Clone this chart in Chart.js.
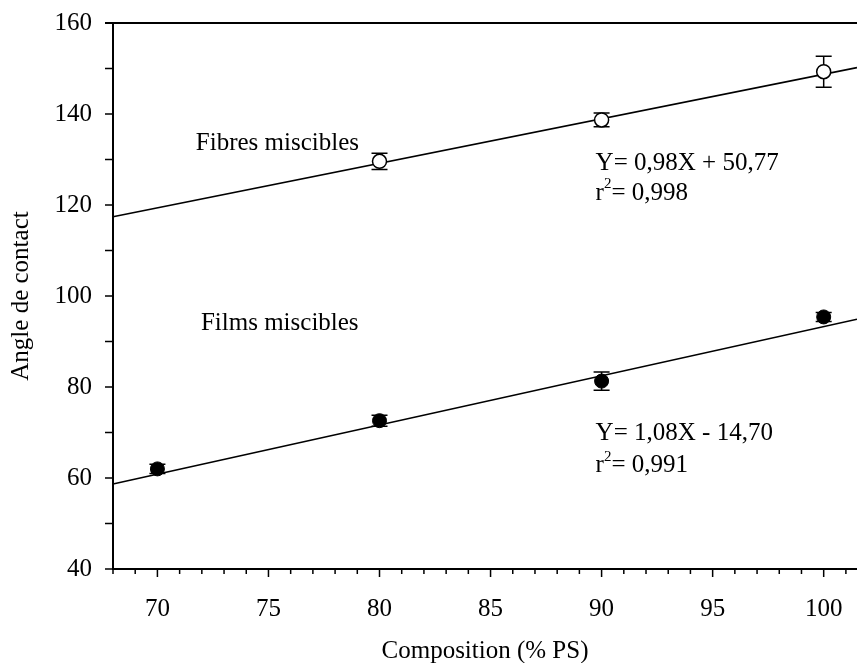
<!DOCTYPE html>
<html>
<head>
<meta charset="utf-8">
<script src="https://cdn.jsdelivr.net/npm/chart.js@4.4.1/dist/chart.umd.min.js"></script>
<style>
  html, body { margin: 0; padding: 0; background: #fff; }
  #wrap { width: 857px; height: 663px; }
</style>
</head>
<body>
<div id="wrap"><canvas id="chart" width="857" height="663"></canvas></div>
<script>
// Contact angle vs. composition (% PS), fibres and films

const compositionFibres = [80, 90, 100];
const angleFibres = [129.6, 138.7, 149.3];
const errFibres = [1.8, 1.5, 3.4];

const compositionFilms = [70, 80, 90, 100];
const angleFilms = [62.0, 72.6, 81.3, 95.4];
const errFilms = [1.0, 1.2, 2.0, 1.0];

// regression lines, read at the ends of the x range
const fitX = [68, 101.5];
const fitFibres = [117.4, 150.2];
const fitFilms = [58.7, 94.9];

const xTicks = [70, 75, 80, 85, 90, 95, 100];
const yTicks = [40, 60, 80, 100, 120, 140, 160];

const FONT = 'Liberation Serif, Times New Roman, serif';

function pts(xs, ys) {
  return xs.map((x, i) => ({ x: x, y: ys[i] }));
}

// error bars, minor ticks, top border and text notes
const extras = {
  id: 'extras',
  beforeDatasetsDraw(chart) {
    const { ctx, scales: { x, y } } = chart;
    ctx.save();
    ctx.strokeStyle = '#000';
    ctx.lineWidth = 1.5;
    const bars = [
      [compositionFibres, angleFibres, errFibres],
      [compositionFilms, angleFilms, errFilms]
    ];
    bars.forEach(([xs, ys, es]) => {
      xs.forEach((v, i) => {
        const px = x.getPixelForValue(v);
        const top = y.getPixelForValue(ys[i] + es[i]);
        const bot = y.getPixelForValue(ys[i] - es[i]);
        ctx.beginPath();
        ctx.moveTo(px, top); ctx.lineTo(px, bot);
        ctx.moveTo(px - 8, top); ctx.lineTo(px + 8, top);
        ctx.moveTo(px - 8, bot); ctx.lineTo(px + 8, bot);
        ctx.stroke();
      });
    });
    ctx.restore();
  },
  afterDraw(chart) {
    const { ctx, chartArea: a, scales: { x, y } } = chart;
    ctx.save();
    ctx.strokeStyle = '#000';
    ctx.lineWidth = 2;
    // top frame line
    ctx.beginPath();
    ctx.moveTo(a.left - 8, a.top);
    ctx.lineTo(a.right, a.top);
    ctx.stroke();
    ctx.lineWidth = 1.5;
    // x ticks: long at every 5, short at every 1
    ctx.beginPath();
    for (let v = Math.ceil(x.min); v <= x.max; v++) {
      const px = x.getPixelForValue(v);
      const len = v % 5 === 0 ? 8 : 5;
      ctx.moveTo(px, a.bottom);
      ctx.lineTo(px, a.bottom + len);
    }
    // y ticks every 10
    for (let v = y.min; v <= y.max; v += 10) {
      const py = y.getPixelForValue(v);
      ctx.moveTo(a.left, py);
      ctx.lineTo(a.left - 8, py);
    }
    ctx.stroke();

    // text notes
    ctx.fillStyle = '#000';
    ctx.textBaseline = 'middle';
    ctx.textAlign = 'left';
    const big = '25px ' + FONT;
    const sup = '15px ' + FONT;
    const notes = [
      { t: 'Fibres miscibles', x: 71.73, y: 133.6 },
      { t: 'Films miscibles', x: 71.96, y: 94.0 },
      { t: 'Y= 0,98X + 50,77', x: 89.73, y: 129.2 },
      { t: 'Y= 1,08X - 14,70', x: 89.73, y: 69.7 }
    ];
    ctx.font = big;
    notes.forEach(n => ctx.fillText(n.t, x.getPixelForValue(n.x), y.getPixelForValue(n.y)));
    const r2 = [
      { v: '= 0,998', x: 89.73, y: 122.6 },
      { v: '= 0,991', x: 89.73, y: 62.7 }
    ];
    r2.forEach(n => {
      let px = x.getPixelForValue(n.x);
      const py = y.getPixelForValue(n.y);
      ctx.font = big;
      ctx.fillText('r', px, py);
      px += ctx.measureText('r').width;
      ctx.font = sup;
      ctx.fillText('2', px, py - 9);
      px += ctx.measureText('2').width;
      ctx.font = big;
      ctx.fillText(n.v, px, py);
    });
    ctx.restore();
  }
};

new Chart(document.getElementById('chart'), {
  type: 'scatter',
  data: {
    datasets: [
      {
        label: 'Fibres miscibles',
        data: pts(compositionFibres, angleFibres),
        pointRadius: 7,
        pointBackgroundColor: '#fff',
        pointBorderColor: '#000',
        pointBorderWidth: 1.5,
        showLine: false
      },
      {
        label: 'Films miscibles',
        data: pts(compositionFilms, angleFilms),
        pointRadius: 7,
        pointBackgroundColor: '#000',
        pointBorderColor: '#000',
        pointBorderWidth: 1,
        showLine: false
      },
      {
        label: 'fit fibres',
        data: pts(fitX, fitFibres),
        showLine: true,
        pointRadius: 0,
        borderColor: '#000',
        borderWidth: 1.6
      },
      {
        label: 'fit films',
        data: pts(fitX, fitFilms),
        showLine: true,
        pointRadius: 0,
        borderColor: '#000',
        borderWidth: 1.6
      }
    ]
  },
  options: {
    responsive: false,
    animation: false,
    layout: { autoPadding: false, padding: { top: 23, right: 0, left: 0, bottom: 0 } },
    clip: false,
    scales: {
      x: {
        type: 'linear',
        min: 68,
        max: 101.5,
        afterBuildTicks: s => { s.ticks = xTicks.map(v => ({ value: v })); },
        afterFit: s => { s.height = 94; s.paddingLeft = 0; s.paddingRight = 0; },
        grid: { display: true, drawOnChartArea: false, drawTicks: false },
        border: { display: true, color: '#000', width: 2 },
        ticks: { color: '#000', padding: 25, maxRotation: 0, font: { family: FONT, size: 25 } },
        title: {
          display: true,
          text: 'Composition (% PS)',
          color: '#000',
          font: { family: FONT, size: 25 },
          padding: { top: 0, bottom: -3 }
        }
      },
      y: {
        min: 40,
        max: 160,
        afterBuildTicks: s => { s.ticks = yTicks.map(v => ({ value: v })); },
        afterFit: s => { s.width = 113; s.paddingTop = 0; s.paddingBottom = 0; },
        grid: { display: true, drawOnChartArea: false, drawTicks: false },
        border: { display: true, color: '#000', width: 2 },
        ticks: { color: '#000', padding: 21, font: { family: FONT, size: 25 } },
        title: {
          display: true,
          text: 'Angle de contact',
          color: '#000',
          font: { family: FONT, size: 25 },
          padding: { top: 6, bottom: 6 }
        }
      }
    },
    plugins: {
      legend: { display: false },
      tooltip: { enabled: false }
    }
  },
  plugins: [extras]
});
</script>
</body>
</html>
